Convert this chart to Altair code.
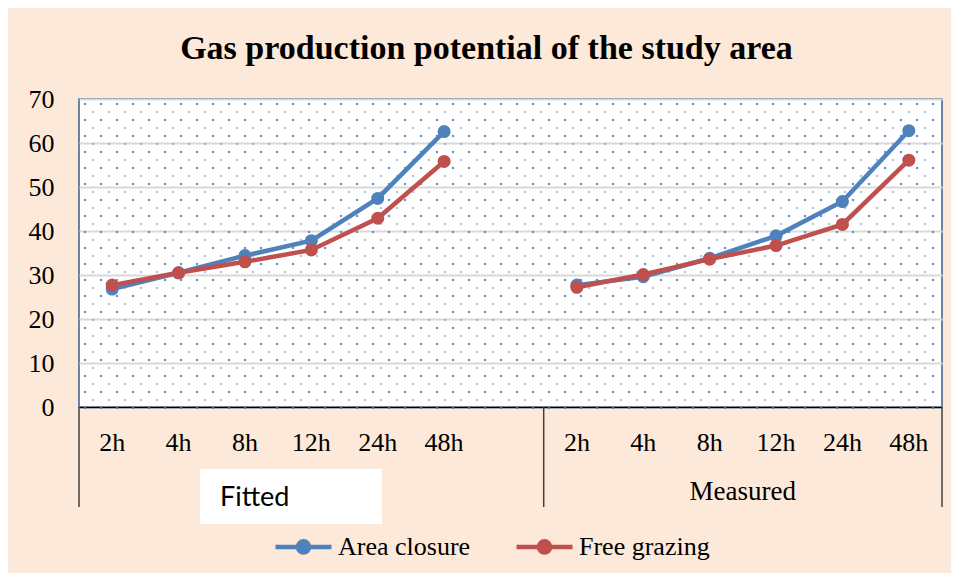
import altair as alt
import pandas as pd

# ---------------- data ----------------
groups = ["Fitted", "Measured"]
times = ["2h", "4h", "8h", "12h", "24h", "48h"]
series_names = ["Area closure", "Free grazing"]
fitted_area = [26.8, 30.5, 34.4, 37.8, 47.4, 62.6]
fitted_free = [27.7, 30.5, 33.0, 35.7, 42.9, 55.8]
measured_area = [27.7, 29.6, 33.8, 38.9, 46.7, 62.8]
measured_free = [27.2, 30.1, 33.6, 36.7, 41.5, 56.1]
y_ticks = [0, 10, 20, 30, 40, 50, 60, 70]

# category keys (Fitted group has an empty 7th slot, as in the original)
keys = [f"Fitted|{t}" for t in times] + ["Fitted| "] + [f"Measured|{t}" for t in times]

values = {
    ("Fitted", "Area closure"): fitted_area,
    ("Fitted", "Free grazing"): fitted_free,
    ("Measured", "Area closure"): measured_area,
    ("Measured", "Free grazing"): measured_free,
}
rows = []
for s in series_names:
    for g in groups:
        for t, v in zip(times, values[(g, s)]):
            rows.append({"key": f"{g}|{t}", "series": s, "group": g, "value": v})
df = pd.DataFrame(rows)

W, H = 863, 308
BLUE, RED = "#4F81BD", "#C0504D"
SERIF = "Liberation Serif"

# background dot texture of the plot area (pattern fill, decoration only)
tex = []
for i in range(39):
    for j in range(55):
        x = 6 + 16 * j + (8 if i % 2 else 0)
        if x < W - 2:
            tex.append({"tx": x, "ty": 5 + 8 * i, "op": 0.85 if i % 2 == 0 else 0.45})
tex_df = pd.DataFrame(tex)

dots = alt.Chart(tex_df).mark_square(size=4.5, color="#4A7EC0").encode(
    x=alt.X("tx:Q", scale=alt.Scale(domain=[0, W]), axis=None),
    y=alt.Y("ty:Q", scale=alt.Scale(domain=[H, 0]), axis=None),
    opacity=alt.Opacity("op:Q", scale=None, legend=None),
)

xenc = alt.X(
    "key:N",
    sort=keys,
    scale=alt.Scale(type="band", domain=keys, paddingInner=0, paddingOuter=0),
    axis=alt.Axis(
        title=None,
        labelExpr="split(datum.value, '|')[1]",
        labelFont=SERIF, labelFontSize=26, labelColor="black",
        labelAngle=0, labelBaseline="alphabetic", labelPadding=43,
        ticks=False, tickSize=0, grid=False,
        domainColor="black", domainWidth=1.5,
    ),
)
yenc = alt.Y(
    "value:Q",
    scale=alt.Scale(domain=[0, 70], nice=False),
    axis=alt.Axis(
        title=None, values=y_ticks,
        labelFont=SERIF, labelFontSize=26, labelColor="black",
        labelPadding=25, ticks=False, tickSize=0,
        grid=True, gridColor="#D9D9D9", gridWidth=2, domain=False,
    ),
)

sym = "M-1,0L1,0M0.2,0A0.2,0.2,0,1,1,-0.2,0A0.2,0.2,0,1,1,0.2,0Z"
color = alt.Color(
    "series:N",
    scale=alt.Scale(domain=series_names, range=[BLUE, RED]),
    legend=alt.Legend(
        title=None, orient="none", direction="horizontal",
        legendX=194, legendY=417, padding=0,
        symbolType=sym, symbolSize=3136, symbolStrokeWidth=4.5,
        labelFont=SERIF, labelFontSize=26, labelColor="black",
        labelOffset=4, columnPadding=36,
    ),
)

lines = alt.Chart(df).mark_line(strokeWidth=4.5).encode(
    x=xenc, y=yenc, color=color, detail="group:N"
)
points = alt.Chart(df).mark_circle(size=170, opacity=1).encode(
    x=xenc, y=yenc, color=color
)

sep_df = pd.DataFrame({"key": ["Fitted|2h", "Measured|2h"]})
seps = alt.Chart(sep_df).mark_rule(color="#404040", strokeWidth=1.5).encode(
    x=alt.X("key:N", bandPosition=0),
    y=alt.value(H), y2=alt.value(H + 100),
)
sep_end = alt.Chart(pd.DataFrame({"key": ["Measured|48h"]})).mark_rule(
    color="#404040", strokeWidth=1.5
).encode(
    x=alt.X("key:N", bandPosition=1),
    y=alt.value(H), y2=alt.value(H + 100),
)

meas_lbl = alt.Chart(pd.DataFrame({"key": ["Measured|12h"], "label": ["Measured"]})).mark_text(
    font=SERIF, fontSize=27, color="black", baseline="alphabetic", align="center"
).encode(
    x=alt.X("key:N", bandPosition=0), y=alt.value(401), text="label:N"
)

fit_box = alt.Chart(pd.DataFrame({"label": ["Fitted"]})).mark_rect(color="white").encode(
    x=alt.value(121), x2=alt.value(303), y=alt.value(370), y2=alt.value(425)
)
fit_lbl = alt.Chart(pd.DataFrame({"label": ["Fitted"]})).mark_text(
    font="Lato", fontSize=27, color="black", baseline="alphabetic", align="left"
).encode(x=alt.value(141), y=alt.value(407), text="label:N")

inner = alt.layer(lines, points, seps, sep_end, meas_lbl, fit_box, fit_lbl)

chart = alt.layer(dots, inner).resolve_scale(x="independent", y="independent").properties(
    width=W, height=H,
    title=alt.TitleParams(
        "Gas production potential of the study area",
        font=SERIF, fontSize=34, fontWeight="bold", color="black",
        anchor="middle", dx=-24, dy=34, offset=27, baseline="alphabetic",
    ),
    autosize=alt.AutoSizeParams(type="none"),
    padding={"left": 71, "top": 91, "right": 9, "bottom": 166},
).configure(
    background="#FDE9D9",
).configure_view(
    fill="white", stroke="#385D8A", strokeWidth=1.5
)

chart.save("out.html", embed_options={"renderer": "svg", "actions": False})
